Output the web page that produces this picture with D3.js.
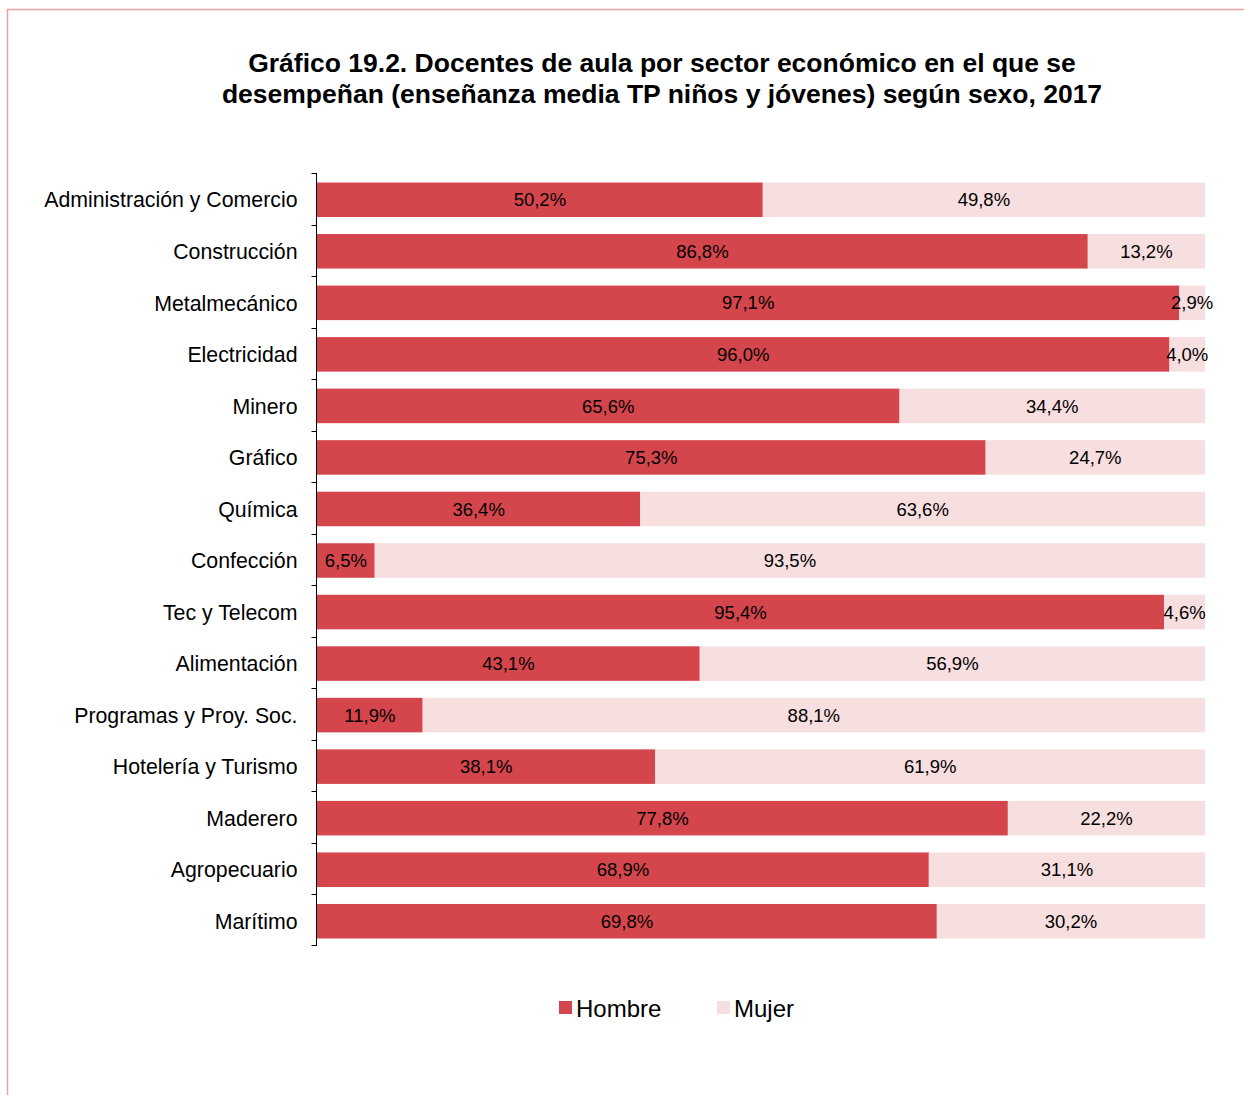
<!DOCTYPE html>
<html>
<head>
<meta charset="utf-8">
<script src="https://cdn.jsdelivr.net/npm/d3@7"></script>
<style>
  body { margin: 0; background: #fff; }
  text { font-family: "Liberation Sans", Arial, sans-serif; }
</style>
</head>
<body>
<div id="chart"></div>
<script>
var width = 1244,
    height = 1095;

// data
var sectores = ["Administración y Comercio", "Construcción", "Metalmecánico", "Electricidad",
    "Minero", "Gráfico", "Química", "Confección", "Tec y Telecom", "Alimentación",
    "Programas y Proy. Soc.", "Hotelería y Turismo", "Maderero", "Agropecuario", "Marítimo"];
var hombre = [50.2, 86.8, 97.1, 96.0, 65.6, 75.3, 36.4, 6.5, 95.4, 43.1, 11.9, 38.1, 77.8, 68.9, 69.8];
var mujer  = [49.8, 13.2, 2.9, 4.0, 34.4, 24.7, 63.6, 93.5, 4.6, 56.9, 88.1, 61.9, 22.2, 31.1, 30.2];
var series = ["Hombre", "Mujer"];
var colores = ["#d4454c", "#f7dedf"];

var rows = sectores.map(function(s, i) {
    return { sector: s, Hombre: hombre[i], Mujer: mujer[i] };
});

var svg = d3.select("#chart").append("svg")
    .attr("width", width)
    .attr("height", height);

// frame
svg.append("path")
    .attr("d", "M7.5," + height + "V9.5H" + width)
    .attr("fill", "none")
    .attr("stroke", "#eba3a8")
    .attr("stroke-width", 1.5);

// title
svg.append("text")
    .attr("x", 662).attr("y", 72)
    .attr("text-anchor", "middle")
    .style("font-size", "26.5px").style("font-weight", "bold")
    .text("Gráfico 19.2. Docentes de aula por sector económico en el que se");
svg.append("text")
    .attr("x", 662).attr("y", 103)
    .attr("text-anchor", "middle")
    .style("font-size", "26.5px").style("font-weight", "bold")
    .text("desempeñan (enseñanza media TP niños y jóvenes) según sexo, 2017");

var x = d3.scaleLinear().domain([0, 100]).range([317, 1205]);
var y = d3.scaleBand().domain(sectores).range([174, 947]).paddingInner(0.33).paddingOuter(0.165);

var stack = d3.stack().keys(series)(rows);

var layers = svg.append("g").selectAll("g")
    .data(stack)
    .enter().append("g")
    .attr("fill", function(d, i) { return colores[i]; });

layers.selectAll("rect")
    .data(function(d) { return d; })
    .enter().append("rect")
    .attr("x", function(d) { return x(d[0]); })
    .attr("y", function(d) { return y(d.data.sector); })
    .attr("width", function(d) { return x(d[1]) - x(d[0]); })
    .attr("height", y.bandwidth());

layers.selectAll("text")
    .data(function(d) { return d; })
    .enter().append("text")
    .attr("x", function(d) { return (x(d[0]) + x(d[1])) / 2; })
    .attr("y", function(d) { return y(d.data.sector) + y.bandwidth() / 2; })
    .attr("dy", "0.36em")
    .attr("text-anchor", "middle")
    .attr("fill", "#000")
    .style("font-size", "18.5px")
    .text(function(d) { return (d[1] - d[0]).toFixed(1).replace(".", ",") + "%"; });

// y axis with ticks at category boundaries
var yAxis = svg.append("g")
    .attr("transform", "translate(316.5,0)");
yAxis.append("line")
    .attr("y1", 173).attr("y2", 946)
    .attr("stroke", "#000");
var bounds = sectores.map(function(s) { return y(s) - y.step() * y.paddingInner() / 2; });
bounds.push(946);
yAxis.selectAll(".tick")
    .data(bounds)
    .enter().append("line")
    .attr("x1", -5).attr("x2", 0)
    .attr("y1", function(d) { return Math.round(d) - 0.5; })
    .attr("y2", function(d) { return Math.round(d) - 0.5; })
    .attr("stroke", "#000");
yAxis.selectAll(".lab")
    .data(sectores)
    .enter().append("text")
    .attr("x", -19)
    .attr("y", function(d) { return y(d) + y.bandwidth() / 2; })
    .attr("dy", "0.36em")
    .attr("text-anchor", "end")
    .style("font-size", "21.3px")
    .text(function(d) { return d; });

// legend
var legend = svg.append("g").selectAll("g")
    .data(series)
    .enter().append("g")
    .attr("transform", function(d, i) { return "translate(" + [559, 717][i] + ",1001)"; });
legend.append("rect")
    .attr("width", 13).attr("height", 13)
    .attr("fill", function(d, i) { return colores[i]; });
legend.append("text")
    .attr("x", 17).attr("y", 7)
    .attr("dy", "0.36em")
    .style("font-size", "24px")
    .text(function(d) { return d; });
</script>
</body>
</html>
